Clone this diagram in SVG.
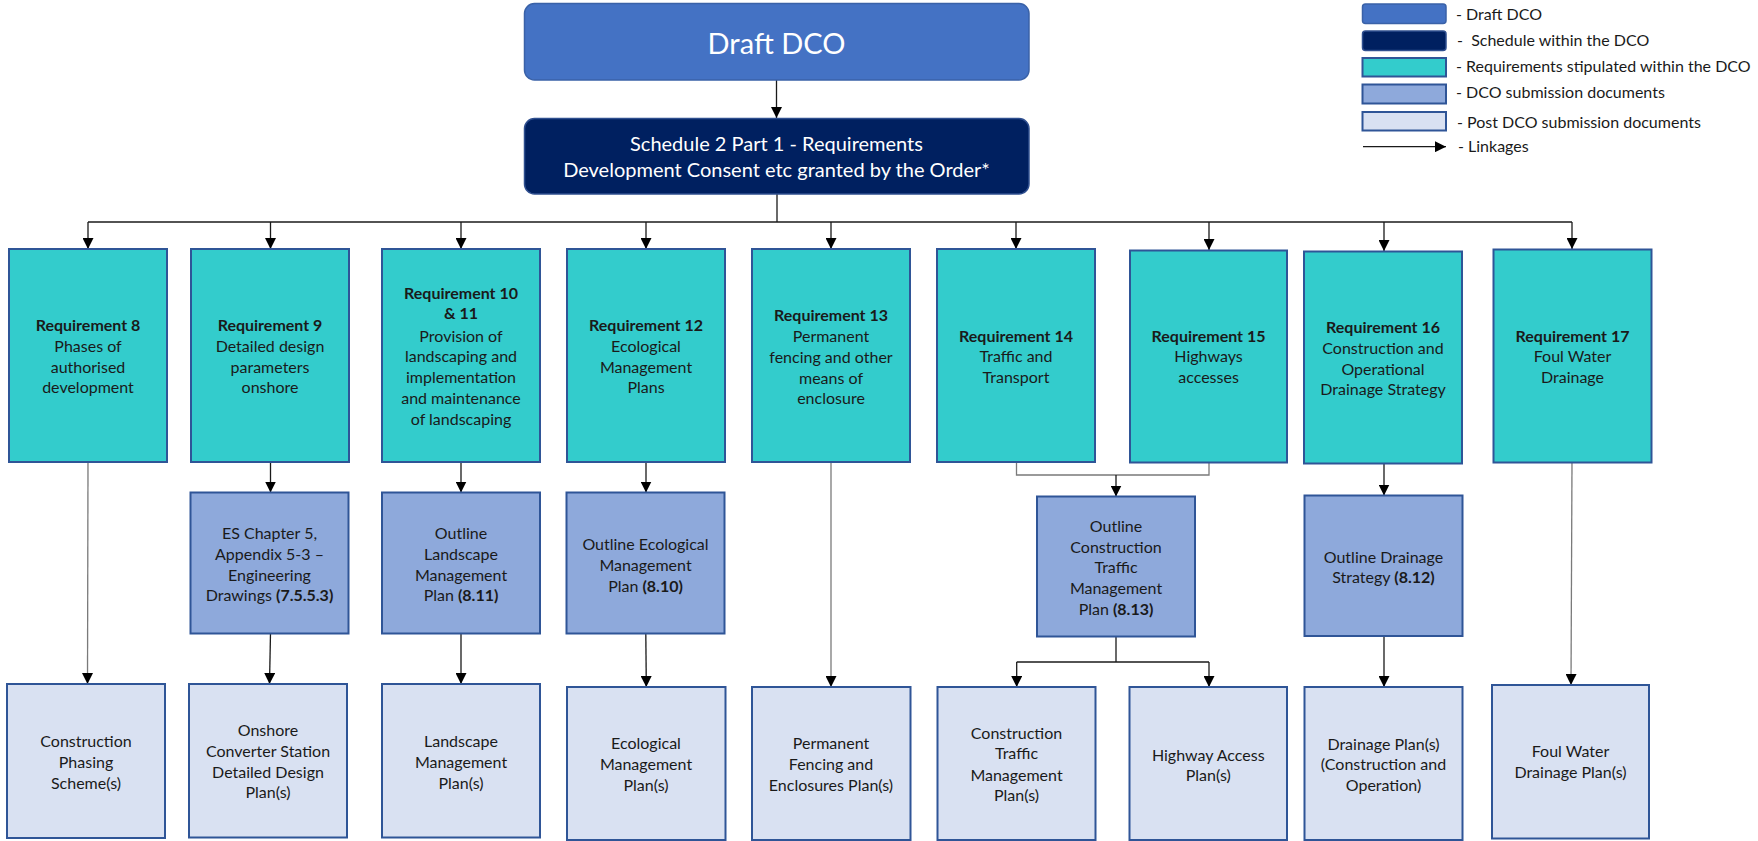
<svg xmlns="http://www.w3.org/2000/svg" width="1758" height="841" viewBox="0 0 1758 841">
<defs>
<marker id="arr" viewBox="0 0 10 10" refX="10" refY="5" markerWidth="11" markerHeight="11" markerUnits="userSpaceOnUse" orient="auto">
<path d="M0,0 L10,5 L0,10 z" fill="#000"/>
</marker>
<style>
.draft{fill:#4472C4;stroke:#3A62A8;stroke-width:1.5}
.sched{fill:#002060;stroke:#2F4F8F;stroke-width:1.5}
.req{fill:#33CCCC;stroke:#2F5597;stroke-width:2}
.sub{fill:#8EA9DB;stroke:#2F5597;stroke-width:2}
.post{fill:#D9E1F2;stroke:#2F5597;stroke-width:2}
.t{font-family:Lato,"Open Sans",sans-serif;font-size:16px;fill:#1a1a1a;text-anchor:middle}
.b{font-weight:bold}
.w{fill:#fff}
.lg{font-family:Lato,"Open Sans",sans-serif;font-size:16px;fill:#1a1a1a}
.c{fill:none;stroke:#1a1a1a;stroke-width:1.3}
.g{fill:none;stroke:#7a7a7a;stroke-width:1.3}
</style>
</defs>
<rect width="1758" height="841" fill="#fff"/>

<g id="connectors">
<line class="c" x1="776.5" y1="80" x2="776.5" y2="118" marker-end="url(#arr)"/>
<line class="c" x1="777" y1="194" x2="777" y2="222"/>
<line class="c" x1="88" y1="222" x2="1572" y2="222"/>
<line class="c" x1="88" y1="222" x2="88" y2="249" marker-end="url(#arr)"/>
<line class="c" x1="270.5" y1="222" x2="270.5" y2="249" marker-end="url(#arr)"/>
<line class="c" x1="461" y1="222" x2="461" y2="249" marker-end="url(#arr)"/>
<line class="c" x1="646" y1="222" x2="646" y2="249" marker-end="url(#arr)"/>
<line class="c" x1="831" y1="222" x2="831" y2="249" marker-end="url(#arr)"/>
<line class="c" x1="1016" y1="222" x2="1016" y2="249" marker-end="url(#arr)"/>
<line class="c" x1="1209" y1="222" x2="1209" y2="250" marker-end="url(#arr)"/>
<line class="c" x1="1384" y1="222" x2="1384" y2="251" marker-end="url(#arr)"/>
<line class="c" x1="1572" y1="222" x2="1572" y2="249" marker-end="url(#arr)"/>

<line class="g" x1="88" y1="462" x2="87.5" y2="684" marker-end="url(#arr)"/>
<line class="c" x1="270.5" y1="462" x2="270.5" y2="492.5" marker-end="url(#arr)"/>
<line class="c" x1="270.5" y1="633" x2="269.5" y2="684" marker-end="url(#arr)"/>
<line class="c" x1="461" y1="462" x2="461" y2="492.5" marker-end="url(#arr)"/>
<line class="c" x1="461" y1="633" x2="461" y2="684" marker-end="url(#arr)"/>
<line class="c" x1="646" y1="462" x2="646" y2="492.5" marker-end="url(#arr)"/>
<line class="c" x1="645.8" y1="633" x2="646.3" y2="687" marker-end="url(#arr)"/>
<line class="g" x1="831" y1="462" x2="831" y2="687" marker-end="url(#arr)"/>
<polyline class="g" points="1016.5,462.5 1016.5,475 1209,475 1209,462.5"/>
<line class="c" x1="1116" y1="475" x2="1116" y2="496.5" marker-end="url(#arr)"/>
<line class="c" x1="1116" y1="636.5" x2="1116" y2="662"/>
<line class="c" x1="1016.7" y1="662" x2="1209" y2="662"/>
<line class="c" x1="1016.7" y1="662" x2="1016.7" y2="687" marker-end="url(#arr)"/>
<line class="c" x1="1209" y1="662" x2="1209" y2="687" marker-end="url(#arr)"/>
<line class="c" x1="1384" y1="463" x2="1384" y2="495.5" marker-end="url(#arr)"/>
<line class="c" x1="1384" y1="636" x2="1384" y2="687" marker-end="url(#arr)"/>
<line class="g" x1="1572" y1="462" x2="1571" y2="685" marker-end="url(#arr)"/>
</g>

<g id="draft-dco">
<rect class="draft" x="524.5" y="3.5" width="504.5" height="76.5" rx="10"/>
<text class="t w" x="776.5" y="53.5" style="font-size:29px">Draft DCO</text>
</g>
<g id="schedule">
<rect class="sched" x="524.5" y="118.5" width="504.5" height="75.5" rx="10"/>
<text class="t w" x="776.5" y="150.5" style="font-size:20px">Schedule 2 Part 1 - Requirements</text>
<text class="t w" x="776.5" y="177.2" style="font-size:20px">Development Consent etc granted by the Order*</text>
</g>

<g id="req8">
<rect class="req" x="9" y="249" width="158" height="213"/>
<text class="t" x="88"><tspan class="b" x="88" y="331.2">Requirement 8</tspan><tspan x="88" y="351.9">Phases of</tspan><tspan x="88" y="372.6">authorised</tspan><tspan x="88" y="393.3">development</tspan></text>
</g>
<g id="req9">
<rect class="req" x="191" y="249" width="158" height="213"/>
<text class="t"><tspan class="b" x="270" y="331.2">Requirement 9</tspan><tspan x="270" y="351.9">Detailed design</tspan><tspan x="270" y="372.6">parameters</tspan><tspan x="270" y="393.3">onshore</tspan></text>
</g>
<g id="req10-11">
<rect class="req" x="382" y="249" width="158" height="213"/>
<text class="t"><tspan class="b" x="461" y="298.8">Requirement 10</tspan><tspan class="b" x="461" y="318.8">&amp; 11</tspan><tspan x="461" y="341.5">Provision of</tspan><tspan x="461" y="362.2">landscaping and</tspan><tspan x="461" y="382.8">implementation</tspan><tspan x="461" y="403.8">and maintenance</tspan><tspan x="461" y="424.8">of landscaping</tspan></text>
</g>
<g id="req12">
<rect class="req" x="567" y="249" width="158" height="213"/>
<text class="t"><tspan class="b" x="646" y="331.2">Requirement 12</tspan><tspan x="646" y="351.9">Ecological</tspan><tspan x="646" y="372.6">Management</tspan><tspan x="646" y="393.3">Plans</tspan></text>
</g>
<g id="req13">
<rect class="req" x="752" y="249" width="158" height="213"/>
<text class="t"><tspan class="b" x="831" y="321">Requirement 13</tspan><tspan x="831" y="342">Permanent</tspan><tspan x="831" y="362.7">fencing and other</tspan><tspan x="831" y="383.5">means of</tspan><tspan x="831" y="404.3">enclosure</tspan></text>
</g>
<g id="req14">
<rect class="req" x="937" y="249" width="158" height="213"/>
<text class="t"><tspan class="b" x="1016" y="341.5">Requirement 14</tspan><tspan x="1016" y="362">Traffic and</tspan><tspan x="1016" y="382.5">Transport</tspan></text>
</g>
<g id="req15">
<rect class="req" x="1130" y="250.5" width="157" height="212"/>
<text class="t"><tspan class="b" x="1208.5" y="341.5">Requirement 15</tspan><tspan x="1208.5" y="362.2">Highways</tspan><tspan x="1208.5" y="382.8">accesses</tspan></text>
</g>
<g id="req16">
<rect class="req" x="1304" y="251.5" width="158" height="212"/>
<text class="t"><tspan class="b" x="1383" y="333.1">Requirement 16</tspan><tspan x="1383" y="353.8">Construction and</tspan><tspan x="1383" y="374.5">Operational</tspan><tspan x="1383" y="395.2">Drainage Strategy</tspan></text>
</g>
<g id="req17">
<rect class="req" x="1493.5" y="249.5" width="158" height="213"/>
<text class="t"><tspan class="b" x="1572.5" y="341.5">Requirement 17</tspan><tspan x="1572.5" y="362.2">Foul Water</tspan><tspan x="1572.5" y="382.8">Drainage</tspan></text>
</g>

<g id="es-chapter5">
<rect class="sub" x="190.5" y="492.5" width="158" height="141"/>
<text class="t"><tspan x="269.5" y="539.1">ES Chapter 5,</tspan><tspan x="269.5" y="559.8">Appendix 5-3 –</tspan><tspan x="269.5" y="580.5">Engineering</tspan><tspan x="269.5" y="601.2">Drawings <tspan class="b">(7.5.5.3)</tspan></tspan></text>
</g>
<g id="outline-landscape">
<rect class="sub" x="382" y="492.5" width="158" height="141"/>
<text class="t"><tspan x="461" y="539.1">Outline</tspan><tspan x="461" y="559.8">Landscape</tspan><tspan x="461" y="580.5">Management</tspan><tspan x="461" y="601.2">Plan <tspan class="b">(8.11)</tspan></tspan></text>
</g>
<g id="outline-ecological">
<rect class="sub" x="566.5" y="492.5" width="158" height="141"/>
<text class="t"><tspan x="645.5" y="549.5">Outline Ecological</tspan><tspan x="645.5" y="570.5">Management</tspan><tspan x="645.5" y="591.5">Plan <tspan class="b">(8.10)</tspan></tspan></text>
</g>
<g id="outline-ctmp">
<rect class="sub" x="1037" y="496.5" width="158" height="140"/>
<text class="t"><tspan x="1116" y="532">Outline</tspan><tspan x="1116" y="552.7">Construction</tspan><tspan x="1116" y="573.4">Traffic</tspan><tspan x="1116" y="594.1">Management</tspan><tspan x="1116" y="614.8">Plan <tspan class="b">(8.13)</tspan></tspan></text>
</g>
<g id="outline-drainage">
<rect class="sub" x="1304.5" y="495.5" width="158" height="140.5"/>
<text class="t"><tspan x="1383.5" y="562.8">Outline Drainage</tspan><tspan x="1383.5" y="582.8">Strategy <tspan class="b">(8.12)</tspan></tspan></text>
</g>

<g id="construction-phasing">
<rect class="post" x="7" y="684" width="158" height="154"/>
<text class="t"><tspan x="86" y="747.2">Construction</tspan><tspan x="86" y="767.8">Phasing</tspan><tspan x="86" y="788.8">Scheme(s)</tspan></text>
</g>
<g id="onshore-converter">
<rect class="post" x="189" y="684" width="158" height="153.5"/>
<text class="t"><tspan x="268" y="735.5">Onshore</tspan><tspan x="268" y="756.5">Converter Station</tspan><tspan x="268" y="777.8">Detailed Design</tspan><tspan x="268" y="798.2">Plan(s)</tspan></text>
</g>
<g id="landscape-mp">
<rect class="post" x="382" y="684" width="158" height="153.5"/>
<text class="t"><tspan x="461" y="747.2">Landscape</tspan><tspan x="461" y="767.8">Management</tspan><tspan x="461" y="788.8">Plan(s)</tspan></text>
</g>
<g id="ecological-mp">
<rect class="post" x="567" y="687" width="158.5" height="153"/>
<text class="t"><tspan x="646" y="748.8">Ecological</tspan><tspan x="646" y="769.5">Management</tspan><tspan x="646" y="790.5">Plan(s)</tspan></text>
</g>
<g id="fencing-plans">
<rect class="post" x="752" y="687" width="158.5" height="153"/>
<text class="t"><tspan x="831" y="748.8">Permanent</tspan><tspan x="831" y="769.5">Fencing and</tspan><tspan x="831" y="790.5">Enclosures Plan(s)</tspan></text>
</g>
<g id="ctmp">
<rect class="post" x="937.5" y="687" width="158" height="153"/>
<text class="t"><tspan x="1016.5" y="738.8">Construction</tspan><tspan x="1016.5" y="759.2">Traffic</tspan><tspan x="1016.5" y="780.5">Management</tspan><tspan x="1016.5" y="801.2">Plan(s)</tspan></text>
</g>
<g id="highway-access">
<rect class="post" x="1129.5" y="687" width="157.5" height="153"/>
<text class="t"><tspan x="1208.3" y="760.5">Highway Access</tspan><tspan x="1208.3" y="780.5">Plan(s)</tspan></text>
</g>
<g id="drainage-plans">
<rect class="post" x="1304.5" y="687" width="158" height="153"/>
<text class="t"><tspan x="1383.5" y="749.5">Drainage Plan(s)</tspan><tspan x="1383.5" y="769.5">(Construction and</tspan><tspan x="1383.5" y="790.5">Operation)</tspan></text>
</g>
<g id="foul-water-plans">
<rect class="post" x="1492" y="685" width="157" height="153.5"/>
<text class="t"><tspan x="1570.5" y="757.2">Foul Water</tspan><tspan x="1570.5" y="777.8">Drainage Plan(s)</tspan></text>
</g>

<g id="legend">
<rect class="draft" x="1362.5" y="4" width="83.5" height="19.5" rx="3"/>
<text class="lg" x="1456" y="20">- Draft DCO</text>
<rect class="sched" x="1362.5" y="31" width="83.5" height="19.5" rx="3"/>
<text class="lg" x="1457" y="45.7" xml:space="preserve">-  Schedule within the DCO</text>
<rect class="req" x="1362.5" y="58" width="83.5" height="18.5"/>
<text class="lg" x="1456" y="71.7">- Requirements stipulated within the DCO</text>
<rect class="sub" x="1362.5" y="84.5" width="83.5" height="19"/>
<text class="lg" x="1456" y="98.3">- DCO submission documents</text>
<rect class="post" x="1362.5" y="112" width="83.5" height="18.5"/>
<text class="lg" x="1457" y="128.3">- Post DCO submission documents</text>
<line class="c" x1="1363" y1="146.7" x2="1446" y2="146.7" marker-end="url(#arr)"/>
<text class="lg" x="1458" y="151.7">- Linkages</text>
</g>
</svg>
